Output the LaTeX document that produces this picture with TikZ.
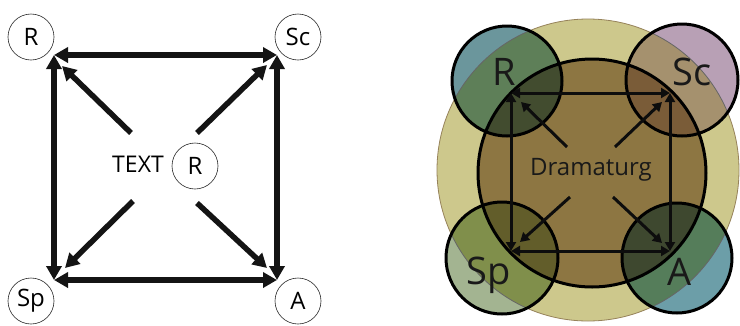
\documentclass[tikz,border=0pt]{standalone}
\usepackage{fontspec}
\setmainfont{Open Sans}
\usetikzlibrary{arrows.meta}
\definecolor{yel}{RGB}{205,200,140}
\definecolor{yelline}{RGB}{150,130,90}
\definecolor{brn}{RGB}{141,118,66}
\definecolor{Rw}{RGB}{107,150,156}
\definecolor{Ry}{RGB}{94,127,88}
\definecolor{Rb}{RGB}{66,76,47}
\definecolor{Scw}{RGB}{184,160,181}
\definecolor{Scy}{RGB}{165,145,110}
\definecolor{Scb}{RGB}{122,92,56}
\definecolor{Spw}{RGB}{163,180,145}
\definecolor{Spy}{RGB}{128,143,75}
\definecolor{Spb}{RGB}{98,93,42}
\definecolor{Aw}{RGB}{108,158,168}
\definecolor{Ay}{RGB}{85,125,90}
\definecolor{Ab}{RGB}{62,72,47}
\tikzset{
  smallc/.style={circle, draw=black!85, line width=0.6pt, minimum size=46pt, inner sep=0pt, font=\fontsize{24}{26}\selectfont},
  bigarr/.style={line width=5.5pt, black!92, {Triangle[length=14pt,width=15pt]}-{Triangle[length=14pt,width=15pt]}},
  diagarr/.style={line width=5.5pt, black!92, -{Triangle[length=14pt,width=15pt]}},
  rarr/.style={line width=3pt, black!95, {Triangle[length=9pt,width=10pt]}-{Triangle[length=9pt,width=10pt]}},
  rdiag/.style={line width=3pt, black!95, -{Triangle[length=9pt,width=10pt]}},
  biglbl/.style={font=\fontsize{38}{40}\selectfont, text=black!90, inner sep=0pt},
  ring/.style={draw=black, line width=3pt}
}
\begin{document}
\begin{tikzpicture}[x=1pt,y=-1pt]
\useasboundingbox[fill=white] (0,0) rectangle (740,325);
% ---------------- left diagram ----------------
\node[smallc] (lR) at (31,37) {R};
\node[smallc] (lSc) at (298,37) {Sc};
\node[smallc] (lSp) at (31,301) {Sp};
\node[smallc] (lA) at (298,301) {A};
\node[font=\fontsize{23}{25}\selectfont, inner sep=0pt] (txt) at (138,164) {TEXT};
\node[smallc] (lC) at (195,166) {R};
\coordinate (c1) at (54,55);
\coordinate (c2) at (277,55);
\coordinate (c3) at (54,280);
\coordinate (c4) at (277,280);
\draw[bigarr] (c1) -- (c2);
\draw[bigarr] (c3) -- (c4);
\draw[bigarr] (c1) -- (c3);
\draw[bigarr] (c2) -- (c4);
\coordinate (s1) at (131,133);
\coordinate (s2) at (197,133);
\coordinate (s3) at (133,201);
\coordinate (s4) at (197,203);
\coordinate (t1) at (62,66);
\coordinate (t2) at (267,65);
\coordinate (t3) at (65,268);
\coordinate (t4) at (267,268);
\draw[diagarr] (s1) -- (t1);
\draw[diagarr] (s2) -- (t2);
\draw[diagarr] (s3) -- (t3);
\draw[diagarr] (s4) -- (t4);
% ---------------- right diagram ----------------
\fill[yel] (588,170) circle (151);
\draw[yelline, line width=0.8pt] (588,170) circle (151);
\fill[brn] (592,173) circle (114);
% small circles, three regions each
\foreach \cx/\cy/\r/\cw/\cyc/\cb in {507/81/55/Rw/Ry/Rb, 682/80/56/Scw/Scy/Scb, 502/258/56/Spw/Spy/Spb, 677/258/55/Aw/Ay/Ab}{
  \fill[\cw] (\cx,\cy) circle (\r);
  \begin{scope}
    \clip (588,170) circle (151);
    \fill[\cyc] (\cx,\cy) circle (\r);
  \end{scope}
  \begin{scope}
    \clip (592,173) circle (114);
    \fill[\cb] (\cx,\cy) circle (\r);
  \end{scope}
  \begin{scope}
    \clip (\cx,\cy) circle (\r);
    \draw[black!60, line width=0.8pt] (588,170) circle (151);
  \end{scope}
}
\draw[ring] (592,173) circle (114);
\node[ring, circle, minimum size=110pt, inner sep=0pt] (rR) at (507,81) {};
\node[ring, circle, minimum size=112pt, inner sep=0pt] (rSc) at (682,80) {};
\node[ring, circle, minimum size=112pt, inner sep=0pt] (rSp) at (502,258) {};
\node[ring, circle, minimum size=110pt, inner sep=0pt] (rA) at (677,258) {};
\node[biglbl] (lbR) at (504,72) {R};
\node[biglbl] (lbSc) at (692,72) {Sc};
\node[biglbl] (lbSp) at (489,275) {Sp};
\node[biglbl] (lbA) at (680,272) {A};
\node[font=\fontsize{24}{26}\selectfont, text=black!90, inner sep=0pt] (dram) at (591,170) {Dramaturg};
\coordinate (d1) at (511,93);
\coordinate (d2) at (670,93);
\coordinate (d3) at (511,251);
\coordinate (d4) at (670,251);
\draw[rarr] (d1) -- (d2);
\draw[rarr] (d3) -- (d4);
\draw[rarr] (d1) -- (d3);
\draw[rarr] (d2) -- (d4);
\coordinate (e1) at (567,147);
\coordinate (e2) at (615,147);
\coordinate (e3) at (570,197);
\coordinate (e4) at (613,197);
\coordinate (f1) at (521,102);
\coordinate (f2) at (662,102);
\coordinate (f3) at (520,242);
\coordinate (f4) at (662,243);
\draw[rdiag] (e1) -- (f1);
\draw[rdiag] (e2) -- (f2);
\draw[rdiag] (e3) -- (f3);
\draw[rdiag] (e4) -- (f4);
\end{tikzpicture}
\end{document}
